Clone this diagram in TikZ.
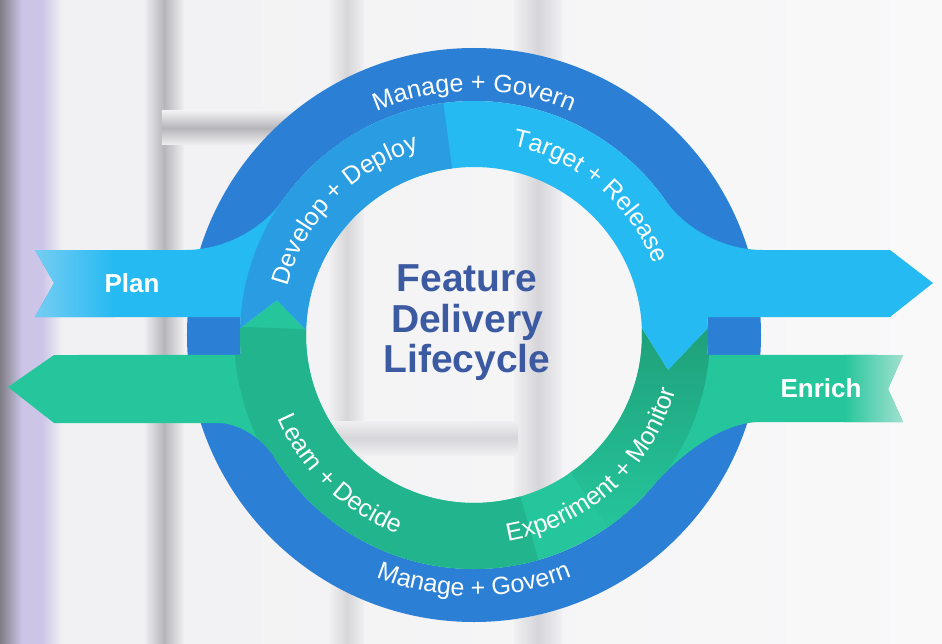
\documentclass[tikz,border=0pt]{standalone}
\usepackage{fontspec}
\setmainfont{Liberation Sans}
\usetikzlibrary{decorations.text}
\definecolor{backdrop}{RGB}{240,240,242}
\definecolor{brightdrop}{RGB}{249,249,250}
\definecolor{framedark}{RGB}{128,126,134}
\definecolor{framegray}{RGB}{182,182,186}
\definecolor{framelight}{RGB}{214,214,218}
\definecolor{lavender}{RGB}{204,197,232}
\definecolor{govblue}{RGB}{43,128,213}
\definecolor{flowblue}{RGB}{38,186,242}
\definecolor{devblue}{RGB}{42,157,226}
\definecolor{tailblue}{RGB}{120,205,242}
\definecolor{flowgreen}{RGB}{37,198,156}
\definecolor{learngreen}{RGB}{34,180,140}
\definecolor{mongreen}{RGB}{31,160,122}
\definecolor{tailgreen}{RGB}{168,226,210}
\definecolor{titleblue}{RGB}{59,90,162}
\newcommand{\ringfont}{\fontsize{25}{25}\selectfont\color{white}}
\newcommand{\bluepath}{(-439,85) -- (-289,85) .. controls (-249,85) and (-212,106) .. (145:234)
  arc[start angle=145, end angle=35, radius=234] .. controls (212,106) and (249,85) .. (289,85)
  -- (416,85) -- (459,52) -- (416,18) -- (4.41:234) arc[start angle=4.41, end angle=1.71, radius=234]
  -- (194,-35) -- (2.39:168) arc[start angle=2.39, end angle=178.3, radius=168]
  -- (-197,35) -- (178.3:234) arc[start angle=178.3, end angle=175.59, radius=234]
  -- (-439,18) -- (-420,52) -- cycle}
\newcommand{\greenpath}{(-4.9:234) -- (429,-20) -- (414,-54) -- (429,-87) -- (286,-87)
  .. controls (246,-87) and (202,-124) .. (-40:234) arc[start angle=-40, end angle=-148, radius=234]
  .. controls (-211,-103) and (-236,-88) .. (-256,-88) -- (-420,-88) -- (-466,-52) -- (-420,-20)
  -- (184.9:234) arc[start angle=184.9, end angle=178.3, radius=234] -- (-197,35)
  -- (178.3:168) arc[start angle=178.3, end angle=362.39, radius=168] -- (194,-35)
  -- (1.71:234) arc[start angle=1.71, end angle=-4.9, radius=234] -- cycle}
\tikzstyle{lifecycletitle} = [text=titleblue, font=\fontsize{39}{40.5}\selectfont\bfseries, align=center]
\tikzstyle{flowlabel} = [text=white, font=\fontsize{26}{26}\selectfont\bfseries]
\tikzstyle{framebar} = [left color=backdrop, right color=backdrop]
\tikzset{ringlabel/.style={decorate, decoration={text along path, text align=center, text={|\ringfont|#1}}}}

\begin{document}
\begin{tikzpicture}[x=1pt, y=1pt]
	\useasboundingbox (-474,-308) rectangle (468,335);
	\shade[left color=backdrop, right color=brightdrop] (-474,-308) rectangle (468,335);
	\shade[left color=framedark, right color=lavender] (-474,-308) rectangle (-452,335);
	\shade[framebar, left color=lavender, middle color=lavender] (-452,-308) rectangle (-412,335);
	\shade[framebar, middle color=framegray] (-330,-308) rectangle (-290,335);
	\shade[framebar, middle color=framelight] (-144,-308) rectangle (-110,335);
	\shade[framebar, middle color=framelight] (40,-308) rectangle (88,335);
	\shade[top color=backdrop, bottom color=backdrop, middle color=framegray] (-312,224) rectangle (-128,190);
	\shade[top color=backdrop, bottom color=backdrop, middle color=framelight] (-170,-86) rectangle (44,-120);
	% outer ring
	\fill[govblue, even odd rule] (0,0) circle[radius=287] (0,0) circle[radius=234];
	% green flow
	\fill[flowgreen] \greenpath;
	\begin{scope}
		\clip \greenpath;
		\fill[learngreen] (178:168) arc[start angle=178, end angle=286, radius=168]
			-- (286:240) arc[start angle=286, end angle=178, radius=240] -- cycle;
		\begin{scope}
			\clip (-55:160) arc[start angle=-55, end angle=5, radius=160]
				-- (5:236) arc[start angle=5, end angle=-55, radius=236] -- cycle;
			\shade[top color=mongreen, bottom color=flowgreen] (80,10) rectangle (245,-200);
		\end{scope}
		\shade[left color=flowgreen, right color=tailgreen] (370,-90) rectangle (432,-18);
	\end{scope}
	% blue flow
	\fill[flowblue] \bluepath;
	\begin{scope}
		\clip \bluepath;
		\fill[devblue] (97.5:168) arc[start angle=97.5, end angle=180, radius=168]
			-- (180:234) arc[start angle=180, end angle=97.5, radius=234] -- cycle;
		\shade[left color=tailblue, right color=flowblue] (-442,16) rectangle (-360,88);
	\end{scope}
	\node[lifecycletitle] (title) at (-7,12) {Feature\\Delivery\\Lifecycle};
	\node[flowlabel] (plan) at (-342,52) {Plan};
	\node[flowlabel] (enrich) at (347,-53) {Enrich};
	\path[ringlabel={Manage + Govern}] (130:244) arc[start angle=130, end angle=50, radius=244];
	\path[ringlabel={Manage + Govern}] (215:261) arc[start angle=215, end angle=325, radius=261];
	\path[ringlabel={Develop + Deploy}] (196:193) arc[start angle=196, end angle=76, radius=193];
	\path[ringlabel={Target + Release}] (110:193) arc[start angle=110, end angle=-10, radius=193];
	\path[ringlabel={Learn + Decide}] (166:213) arc[start angle=166, end angle=286, radius=213];
	\path[ringlabel={Experiment + Monitor}] (247:209) arc[start angle=247, end angle=377, radius=209];
\end{tikzpicture}
\end{document}
